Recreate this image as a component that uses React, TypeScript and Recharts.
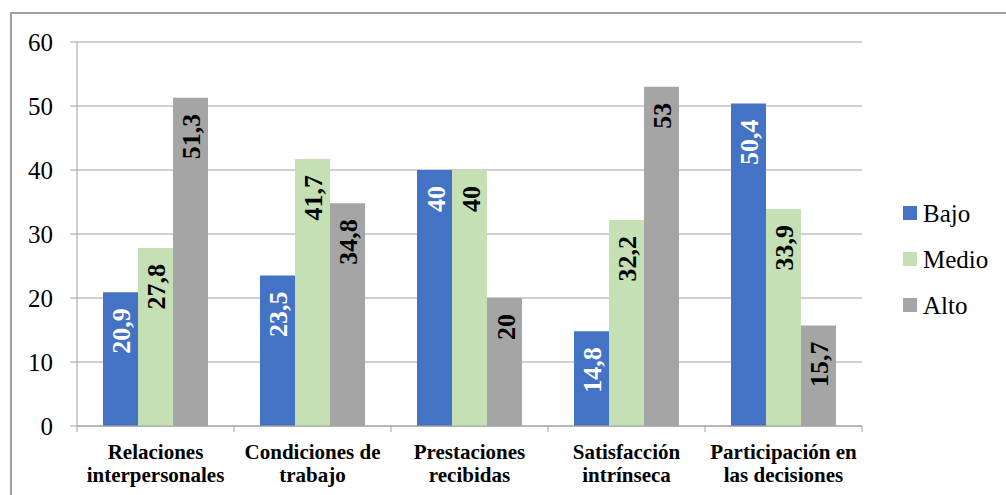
import React from "react";
import { BarChart, Bar, XAxis, YAxis, CartesianGrid, Legend, LabelList } from "recharts";

// Dimension categories (two-line labels split on "\n")
const CATEGORIES = [
  "Relaciones\ninterpersonales",
  "Condiciones de\ntrabajo",
  "Prestaciones\nrecibidas",
  "Satisfacción\nintrínseca",
  "Participación en\nlas decisiones",
];

// Percentage per level
const BAJO = [20.9, 23.5, 40, 14.8, 50.4];
const MEDIO = [27.8, 41.7, 40, 32.2, 33.9];
const ALTO = [51.3, 34.8, 20, 53, 15.7];

const Y_TICKS = [0, 10, 20, 30, 40, 50, 60];

const SERIES = [
  { key: "Bajo", color: "#4472C4", labelColor: "#FFFFFF" },
  { key: "Medio", color: "#C5E0B4", labelColor: "#000000" },
  { key: "Alto", color: "#A5A5A5", labelColor: "#000000" },
];

const data = CATEGORIES.map((name, i) => ({
  name,
  Bajo: BAJO[i],
  Medio: MEDIO[i],
  Alto: ALTO[i],
}));

const WIDTH = 1006;
const HEIGHT = 495;
const MARGIN = { top: 42, right: 144, left: 0, bottom: 0 };
const Y_AXIS_W = 77;
const X_AXIS_H = 69;
const PLOT_W = WIDTH - MARGIN.left - MARGIN.right - Y_AXIS_W;
const AXIS_COLOR = "#A0A0A0";
const FONT = "'Liberation Serif', 'Times New Roman', serif";

const fmt = (v: number) => String(v).replace(".", ",");

function CategoryTick(props: any) {
  const { x, y, payload, index, visibleTicksCount } = props;
  const lines = String(payload.value).split("\n");
  const band = PLOT_W / CATEGORIES.length;
  const axisY = y - 8;
  return (
    <g>
      <line x1={x - band / 2} x2={x - band / 2} y1={axisY} y2={axisY + 6} stroke={AXIS_COLOR} strokeWidth={1} />
      {index === visibleTicksCount - 1 && (
        <line x1={x + band / 2} x2={x + band / 2} y1={axisY} y2={axisY + 6} stroke={AXIS_COLOR} strokeWidth={1} />
      )}
      {lines.map((line: string, i: number) => (
        <text
          key={i}
          x={x}
          y={y + 25 + i * 23}
          textAnchor="middle"
          style={{ fontFamily: FONT, fontWeight: 700, fontSize: 21 }}
          fill="#000"
        >
          {line}
        </text>
      ))}
    </g>
  );
}

function ValueTick(props: any) {
  const { x, y, payload } = props;
  return (
    <text x={x} y={y} dy="0.355em" textAnchor="end" fill="#000" style={{ fontFamily: FONT, fontWeight: 400, fontSize: 25 }}>
      {payload.value}
    </text>
  );
}

function makeValueLabel(color: string) {
  return (props: any) => {
    const { x, y, width, value } = props;
    const cx = Number(x) + Number(width) / 2 + 1.5;
    const ty = Number(y) + 16;
    return (
      <text
        x={cx}
        y={ty}
        transform={`rotate(-90, ${cx}, ${ty})`}
        textAnchor="end"
        dominantBaseline="central"
        style={{ fontFamily: FONT, fontWeight: 700, fontSize: 26 }}
        fill={color}
      >
        {fmt(Number(value))}
      </text>
    );
  };
}

function LegendContent() {
  return (
    <div>
      {SERIES.map((s) => (
        <div key={s.key} style={{ height: 46, display: "flex", alignItems: "center" }}>
          <span style={{ display: "inline-block", width: 14, height: 14, background: s.color, marginRight: 6 }} />
          <span style={{ fontFamily: FONT, fontWeight: 400, fontSize: 25, lineHeight: 1, color: "#000" }}>{s.key}</span>
        </div>
      ))}
    </div>
  );
}

export default function App() {
  return (
    <div style={{ position: "absolute", left: 0, top: 0, width: WIDTH, height: HEIGHT, overflow: "hidden", background: "#fff", fontFamily: FONT }}>
      <div
        style={{
          position: "absolute",
          left: 10,
          top: 12,
          width: WIDTH,
          height: HEIGHT,
          borderTop: `2px solid ${AXIS_COLOR}`,
          borderLeft: `2px solid ${AXIS_COLOR}`,
        }}
      />
      <div style={{ position: "absolute", left: 0, top: 0 }}>
        <BarChart width={WIDTH} height={HEIGHT} data={data} margin={MARGIN} barCategoryGap={26} barGap={0}>
          <CartesianGrid vertical={false} stroke={AXIS_COLOR} strokeWidth={1} />
          <XAxis
            dataKey="name"
            height={X_AXIS_H}
            stroke={AXIS_COLOR}
            tickLine={false}
            tick={(p: any) => <CategoryTick {...p} />}
            interval={0}
          />
          <YAxis
            width={Y_AXIS_W}
            domain={[0, 60]}
            ticks={Y_TICKS}
            stroke={AXIS_COLOR}
            tickSize={7}
            tickMargin={17}
            tick={(p: any) => <ValueTick {...p} />}
            interval={0}
          />
          <Legend
            layout="horizontal"
            align="center"
            verticalAlign="middle"
            content={() => <LegendContent />}
            wrapperStyle={{ left: 903, top: 190, width: 103 }}
          />
          {SERIES.map((s) => (
            <Bar key={s.key} dataKey={s.key} fill={s.color} isAnimationActive={false}>
              <LabelList dataKey={s.key} content={makeValueLabel(s.labelColor)} />
            </Bar>
          ))}
        </BarChart>
      </div>
    </div>
  );
}
